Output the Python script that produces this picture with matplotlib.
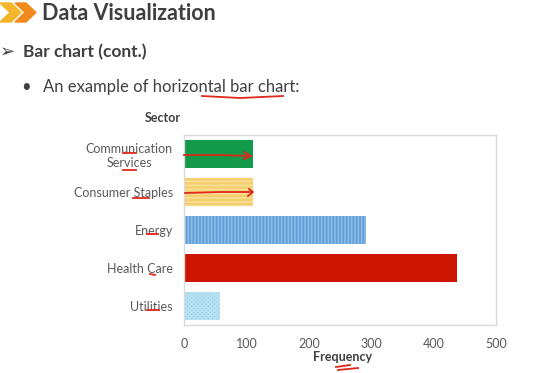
import matplotlib.pyplot as plt
from matplotlib.patches import Polygon

plt.rcParams['font.family'] = ['Lato', 'DejaVu Sans']
plt.rcParams['hatch.linewidth'] = 1.2

# Chart data
sectors = ["Communication\nServices", "Consumer Staples", "Energy", "Health Care", "Utilities"]
frequency = [111, 110, 291, 437, 58]
x_ticks = [0, 100, 200, 300, 400, 500]

face_colors = ["#12994A", "#F5CF6E", "#5E9ED6", "#CC1400", "#8FD0E8"]
hatch_colors = ["#12994A", "#F9DE96", "#8EBCE6", "#CC1400", "#B8E2F1"]
hatches = [None, "----", "|||||", None, "xxxxxxxx"]

W, H = 556, 373
fig = plt.figure(figsize=(W / 100, H / 100), dpi=100)
fig.patch.set_facecolor("white")


def px(x, y):
    return (x / W, 1 - y / H)


# slide header: orange chevrons + title
for x0, col in [(0, "#F5B52A"), (15, "#F08A1C")]:
    pts = [(x0, 3), (x0 + 11, 3), (x0 + 21, 12.5), (x0 + 11, 22), (x0, 22), (x0 + 10, 12.5)]
    fig.add_artist(Polygon([px(a, b) for a, b in pts], closed=True, color=col,
                           transform=fig.transFigure))
fig.text(*px(42, 13), "Data Visualization", fontsize=15.5, fontweight="bold",
         color="#3F3F3F", va="center", ha="left")

fig.text(*px(0, 52), "\u27a2", fontsize=13, color="#404040", va="center", ha="left",
         family=["DejaVu Sans"])
fig.text(*px(23, 52), "Bar chart (cont.)", fontsize=12.5, fontweight="bold",
         color="#404040", va="center", ha="left")
fig.text(*px(21, 87), "\u2022", fontsize=12, color="#404040", va="center", ha="left")
fig.text(*px(43, 87), "An example of horizontal bar chart:", fontsize=12,
         color="#404040", va="center", ha="left")

# chart
ax = fig.add_axes([184 / W, 1 - 325 / H, (496 - 184) / W, (325 - 135) / H])
ypos = list(range(len(sectors)))
for i in ypos:
    ax.barh(i, frequency[i], height=0.72, color=face_colors[i],
            edgecolor=hatch_colors[i], hatch=hatches[i], linewidth=0)

ax.set_ylim(len(sectors) - 0.5, -0.5)
ax.set_xlim(0, 500)
ax.set_xticks(x_ticks)
ax.set_yticks(ypos)
ax.set_yticklabels(sectors, multialignment="center")
ax.tick_params(length=0, colors="#595959", labelsize=9)
ax.tick_params(axis="x", pad=9)
ax.tick_params(axis="y", pad=8)
for s in ax.spines.values():
    s.set_color("#D9D9D9")
    s.set_linewidth(1)

fig.text(*px(163, 118), "Sector", fontsize=9, fontweight="bold", color="#404040",
         ha="center", va="center")
fig.text(*px(343, 357), "Frequency", fontsize=9, fontweight="bold", color="#404040",
         ha="center", va="center")

# red pen marks from the slide
red = "#E0281B"
pen = [
    [(202, 96), (240, 98), (283, 96)],
    [(184, 155), (220, 155), (250, 156)],
    [(244, 152), (251, 156), (244, 159)],
    [(185, 193), (220, 192), (252, 192)],
    [(249, 189), (253, 192), (248, 196)],
    [(336, 367), (350, 365)],
    [(338, 370), (358, 368)],
    [(123, 153), (136, 153)],
    [(123, 170), (136, 170)],
    [(133, 198), (149, 198)],
    [(147, 234), (158, 234)],
    [(150, 274), (155, 275)],
    [(147, 310), (159, 310)],
]
for stroke in pen:
    xs = [p[0] / W for p in stroke]
    ys = [1 - p[1] / H for p in stroke]
    fig.add_artist(plt.Line2D(xs, ys, color=red, linewidth=1.3,
                              transform=fig.transFigure))

plt.savefig("out.png", dpi=100, facecolor=fig.get_facecolor())
plt.close()
